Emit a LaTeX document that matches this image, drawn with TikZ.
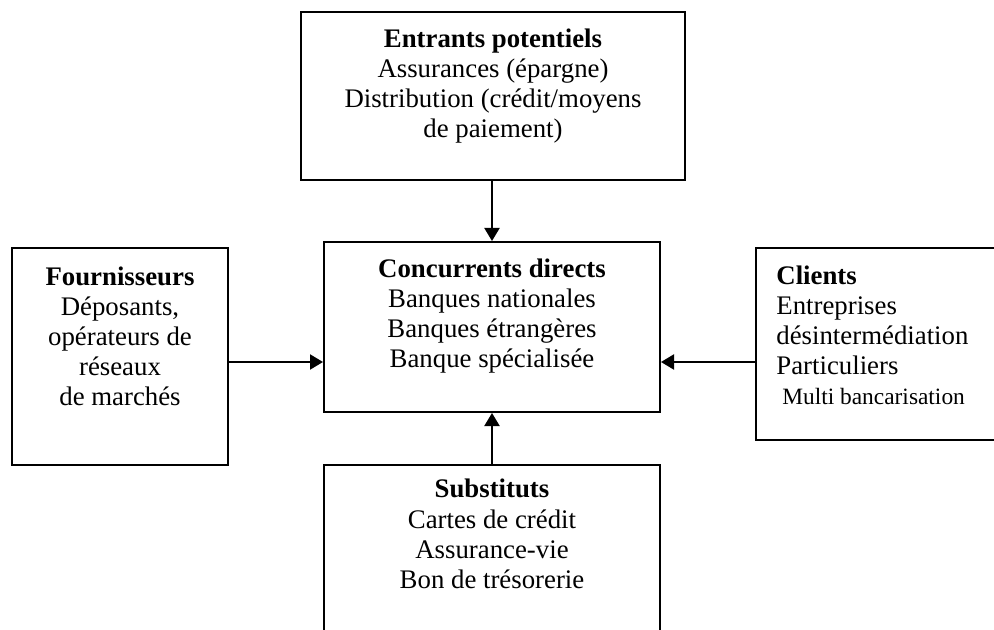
\documentclass[tikz,border=0pt]{standalone}
\usepackage{fontspec}
\setmainfont{Liberation Serif}
\usetikzlibrary{arrows.meta}
\tikzset{
	boite/.style={draw,line width=1pt,rectangle,inner sep=0pt},
	texte/.style={align=center,inner sep=0pt,anchor=north,font=\fontsize{13.4pt}{15pt}\selectfont},
	fleche/.style={line width=1pt,-{Triangle[length=6.5pt,width=7.5pt]}}
}
\begin{document}
\begin{tikzpicture}[x=0.5pt,y=-0.5pt]
	\useasboundingbox (0,0) rectangle (994,630);
	\clip (0,0) rectangle (994,630);
	% boites
	\node[boite,minimum width=192pt,minimum height=84pt] (ent) at (493,96) {};
	\node[boite,minimum width=168pt,minimum height=85pt] (conc) at (492,327) {};
	\node[boite,minimum width=108pt,minimum height=108.5pt] (four) at (120,356.5) {};
	\node[boite,minimum width=127pt,minimum height=96pt] (cli) at (883,344) {};
	\node[boite,minimum width=168pt,minimum height=92.5pt] (sub) at (492,557.5) {};
	% textes
	\node[texte] (ent-t) at (493,29) {\textbf{Entrants potentiels}\\Assurances (épargne)\\Distribution (crédit/moyens\\de paiement)};
	\node[texte] (conc-t) at (492,259) {\textbf{Concurrents directs}\\Banques nationales\\Banques étrangères\\Banque spécialisée};
	\node[texte] (four-t) at (120,267) {\textbf{Fournisseurs}\\Déposants,\\opérateurs de\\réseaux\\de marchés};
	\node[texte,align=left,anchor=north west] (cli-t) at (776,266) {\textbf{Clients}\\Entreprises\\désintermédiation\\Particuliers\\{\fontsize{11.7pt}{15pt}\selectfont\ Multi bancarisation}};
	\node[texte] (sub-t) at (492,479) {\textbf{Substituts}\\Cartes de crédit\\Assurance-vie\\Bon de trésorerie};
	% fleches
	\coordinate (conc-w) at ([yshift=-17.5pt]conc.west);
	\coordinate (conc-e) at ([yshift=-17.5pt]conc.east);
	\draw[fleche] (conc.north |- ent.south) -- (conc.north);
	\draw[fleche] (four.east |- conc-w) -- (conc-w);
	\draw[fleche] (cli.west |- conc-e) -- (conc-e);
	\draw[fleche] (sub.north) -- (conc.south);
\end{tikzpicture}
\end{document}
